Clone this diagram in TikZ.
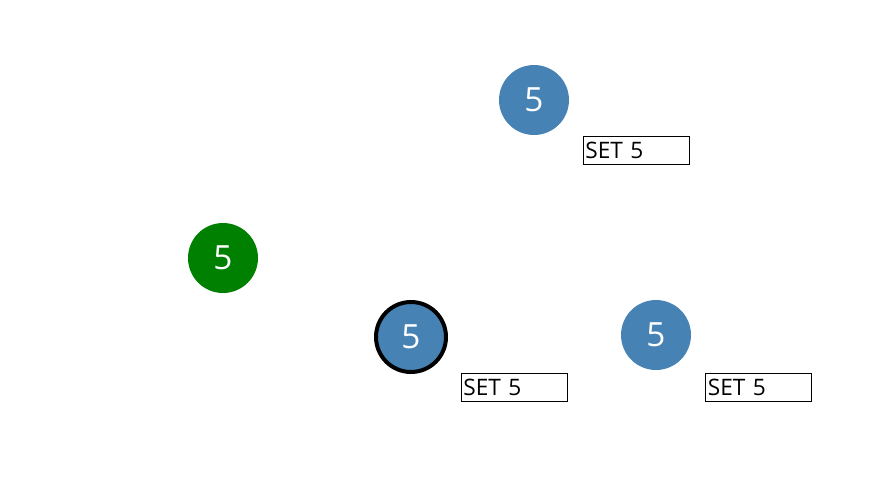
\documentclass[tikz,border=0pt]{standalone}
\usepackage{fontspec}
\setmainfont{Open Sans}
\definecolor{steel}{HTML}{4682B4}
\definecolor{grn}{HTML}{008000}
\tikzset{
  ball/.style={circle, fill=steel, minimum size=52.5pt, inner sep=0pt, text=white, font=\fontsize{25}{25}\selectfont},
  setbox/.style={draw, line width=0.75pt, minimum width=79.5pt, minimum height=21pt, inner sep=1.5pt, text width=76pt, align=left, font=\fontsize{17}{17}\selectfont}
}
\begin{document}
\begin{tikzpicture}[x=0.75pt, y=-0.75pt]
\useasboundingbox (0,0) rectangle (882,490);
\node[ball] (top) at (534,100) {5};
\node[ball, fill=grn] (left) at (223,258) {5};
\node[ball, draw=black, line width=3pt] (mid) at (411,337) {5};
\node[ball] (right) at (656,335) {5};
\node[setbox] (settop) at (636,150) {SET 5};
\node[setbox] (setmid) at (514,387) {SET 5};
\node[setbox] (setright) at (758.5,387) {SET 5};
\end{tikzpicture}
\end{document}
